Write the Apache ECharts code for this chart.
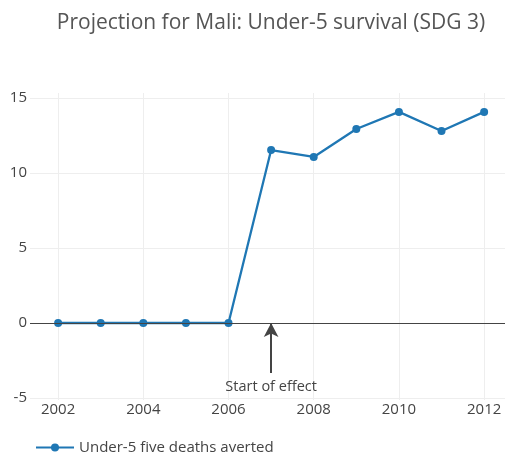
<!DOCTYPE html>
<html>
<head>
<meta charset="utf-8">
<script src="https://cdn.jsdelivr.net/npm/echarts@6/dist/echarts.min.js"></script>
<style>
  html, body { margin: 0; padding: 0; background: #fff; }
  #chart { width: 507px; height: 455px; }
</style>
</head>
<body>
<div id="chart"></div>
<script>
const years = [2002, 2003, 2004, 2005, 2006, 2007, 2008, 2009, 2010, 2011, 2012]
const averted = [0, 0, 0, 0, 0, 11.53, 11.07, 12.93, 14.07, 12.8, 14.07]
const xTicks = [2002, 2004, 2006, 2008, 2010, 2012]
const yTicks = [-5, 0, 5, 10, 15]
const effectYear = 2007

const font = '"Open Sans", sans-serif'
const chart = echarts.init(document.getElementById('chart'))

const data = years.map(function (y, i) {
  return [y, averted[i]]
})

const option = {
  animation: false,
  title: {
    text: 'Projection for Mali: Under-5 survival (SDG 3)',
    left: 266,
    top: 8,
    textAlign: 'center',
    textStyle: {
      fontFamily: font,
      fontSize: 21,
      fontWeight: 'normal',
      color: '#555'
    }
  },
  legend: {
    left: 30,
    top: 435,
    itemWidth: 38,
    itemHeight: 10,
    itemGap: 6,
    textStyle: {
      fontFamily: font,
      fontSize: 15,
      color: '#444'
    },
    data: ['Under-5 five deaths averted']
  },
  grid: {
    left: 30,
    right: 2,
    top: 93,
    bottom: 55
  },
  xAxis: {
    type: 'value',
    min: 2001.34,
    max: 2012.49,
    axisLine: { show: false },
    axisTick: { show: false, customValues: xTicks },
    axisLabel: {
      customValues: xTicks,
      formatter: function (v) { return String(v) },
      margin: 2,
      fontFamily: font,
      fontSize: 15,
      color: '#444'
    },
    splitLine: {
      show: true,
      lineStyle: { color: '#eee', width: 1 }
    }
  },
  yAxis: {
    type: 'value',
    min: -5.13,
    max: 15.33,
    axisLine: { show: false },
    axisTick: { show: false, customValues: yTicks },
    axisLabel: {
      customValues: yTicks,
      margin: 3,
      fontFamily: font,
      fontSize: 15,
      color: '#444'
    },
    splitLine: {
      show: true,
      lineStyle: { color: '#eee', width: 1 }
    }
  },
  series: [{
    name: 'Under-5 five deaths averted',
    type: 'line',
    data: data,
    color: '#1f77b4',
    symbol: 'circle',
    symbolSize: 8,
    lineStyle: { width: 2.3 },
    z: 3,
    markLine: {
      silent: true,
      animation: false,
      data: [
        [{
          coord: [2001.34, 0],
          symbol: 'none',
          lineStyle: { color: '#444', width: 1, type: 'solid' },
          label: { show: false }
        }, {
          coord: [2012.49, 0],
          symbol: 'none'
        }],
        [{
          coord: [effectYear, -3.33],
          symbol: 'none',
          lineStyle: { color: '#444', width: 2, type: 'solid' },
          label: {
            show: true,
            position: 'start',
            formatter: 'Start of effect',
            distance: 6,
            fontFamily: font,
            fontSize: 14.5,
            color: '#444'
          }
        }, {
          coord: [effectYear, 0],
          symbol: 'arrow',
          symbolSize: [11, 14]
        }]
      ]
    }
  }]
}

chart.setOption(option)
</script>
</body>
</html>
